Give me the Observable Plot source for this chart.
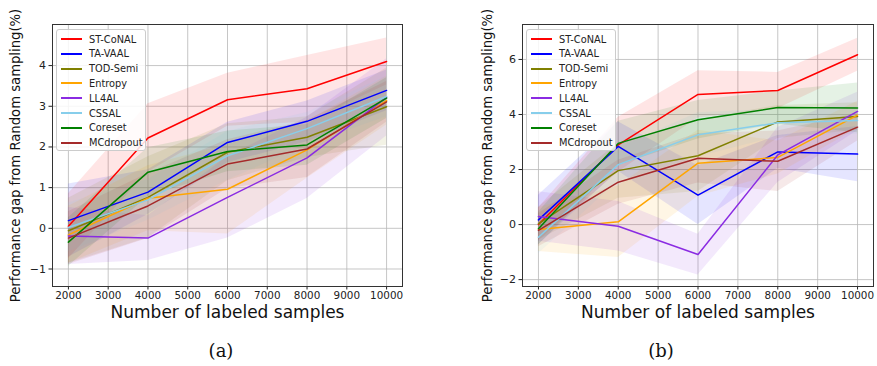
<!DOCTYPE html>
<html>
<head>
<meta charset="utf-8">
<script src="https://cdn.jsdelivr.net/npm/d3@7"></script>
<script src="https://cdn.jsdelivr.net/npm/@observablehq/plot@0.6"></script>
<style>
  html, body { margin: 0; padding: 0; background: #fff; }
  #wrap { position: relative; width: 877px; height: 366px; overflow: hidden; font-family: "DejaVu Sans", sans-serif; }
  .panel { position: absolute; top: 0; }
  .legend { position: absolute; border: 1px solid #cccccc; border-radius: 3px; background: rgba(255,255,255,0.85); box-sizing: border-box; }
  .legend .row { position: absolute; left: 0; height: 14px; display: flex; align-items: center; font-size: 9.8px; color: #222; white-space: nowrap; }
  .legend .sw { width: 21px; height: 2px; margin-left: 4px; margin-right: 7px; }
  .cap { position: absolute; top: 340px; font-family: "DejaVu Serif", "Liberation Serif", serif; font-size: 18px; color: #111; transform: translateX(-50%); }
</style>
</head>
<body>
<div id="wrap"></div>
<script>
const samples = [2000, 4000, 6000, 8000, 10000];
const xTicks = [2000, 3000, 4000, 5000, 6000, 7000, 8000, 9000, 10000];
const methods = ["ST-CoNAL", "TA-VAAL", "TOD-Semi", "Entropy", "LL4AL", "CSSAL", "Coreset", "MCdropout"];
const colors = ["red", "blue", "olive", "orange", "blueviolet", "skyblue", "green", "brown"];

// Panel (a)
const meanA = [
  [0.05, 2.22, 3.16, 3.43, 4.10],
  [0.19, 0.89, 2.11, 2.63, 3.39],
  [-0.06, 0.76, 1.87, 2.24, 2.99],
  [-0.16, 0.74, 0.96, 1.93, 3.14],
  [-0.19, -0.24, 0.76, 1.73, 3.22],
  [0.02, 0.70, 1.78, 2.45, 3.24],
  [-0.34, 1.38, 1.89, 2.05, 3.20],
  [-0.24, 0.55, 1.58, 1.95, 3.11]
];
const stdA = [
  [0.80, 0.84, 0.65, 0.82, 0.58],
  [0.90, 0.55, 0.50, 0.50, 0.50],
  [0.80, 1.00, 0.70, 0.50, 0.95],
  [0.70, 0.80, 1.10, 0.70, 0.60],
  [0.70, 0.55, 1.00, 1.00, 0.95],
  [0.60, 0.50, 0.60, 0.40, 0.50],
  [0.60, 0.60, 0.50, 0.50, 0.50],
  [0.65, 0.80, 0.60, 0.70, 0.50]
];
const yTicksA = [-1, 0, 1, 2, 3, 4];

// Panel (b)
const meanB = [
  [0.00, 2.90, 4.73, 4.87, 6.17],
  [0.17, 2.84, 1.07, 2.64, 2.56],
  [0.03, 1.96, 2.50, 3.73, 3.93],
  [-0.18, 0.10, 2.23, 2.44, 3.98],
  [0.29, -0.06, -1.09, 2.53, 4.11],
  [-0.46, 2.18, 3.26, 3.70, 3.78],
  [-0.15, 2.95, 3.81, 4.25, 4.24],
  [-0.21, 1.54, 2.41, 2.30, 3.54]
];
const stdB = [
  [0.60, 1.00, 0.86, 0.66, 0.60],
  [0.90, 0.90, 1.07, 0.60, 1.00],
  [0.60, 1.00, 1.30, 0.60, 0.50],
  [0.80, 1.30, 1.20, 0.60, 0.50],
  [0.90, 0.90, 0.74, 1.00, 0.70],
  [0.60, 0.60, 0.80, 0.50, 0.50],
  [0.60, 0.80, 0.70, 0.60, 0.90],
  [0.60, 0.80, 0.90, 1.10, 0.50]
];
const yTicksB = [-2, 0, 2, 4, 6];

const xLabel = "Number of labeled samples";
const yLabel = "Performance gap from Random sampling(%)";

const intFmt = d => (d < 0 ? "\u2212" : "") + Math.abs(d);

function rows(mean, std) {
  const out = [];
  methods.forEach((m, i) => samples.forEach((s, j) => {
    out.push({method: m, x: s, y: mean[i][j], lo: mean[i][j] - std[i][j], hi: mean[i][j] + std[i][j]});
  }));
  return out;
}

function panel({mean, std, yDomain, yTicks, width, marginLeft, marginRight, yLabelDx}) {
  const data = rows(mean, std);
  return Plot.plot({
    width, height: 330,
    marginLeft, marginRight, marginTop: 24, marginBottom: 44,
    style: {fontFamily: "DejaVu Sans, sans-serif", fontSize: "11px", color: "#222", background: "transparent"},
    x: {domain: [1600, 10400], label: null},
    y: {domain: yDomain, label: null},
    color: {domain: methods, range: colors},
    marks: [
      Plot.gridX(xTicks, {stroke: "#b8b8b8", strokeOpacity: 0.8, strokeWidth: 1}),
      Plot.gridY(yTicks, {stroke: "#b8b8b8", strokeOpacity: 0.8, strokeWidth: 1}),
      Plot.areaY(data, {x: "x", y1: "lo", y2: "hi", z: "method", fill: "method", fillOpacity: 0.1}),
      Plot.lineY(data, {x: "x", y: "y", z: "method", stroke: "method", strokeWidth: 1.5}),
      Plot.axisX({ticks: xTicks, tickFormat: intFmt, tickSize: 3.5, tickPadding: 2, label: null, fontSize: 10.4}),
      Plot.axisY({ticks: yTicks, tickFormat: intFmt, tickSize: 3.5, tickPadding: 3, label: null, fontSize: 11}),
      Plot.frame({stroke: "#333", strokeWidth: 1}),
      Plot.text([xLabel], {text: d => d, frameAnchor: "bottom", dy: 31, fontSize: 17, fill: "#111"}),
      Plot.text([yLabel], {text: d => d, frameAnchor: "left", textAnchor: "middle", dx: yLabelDx, rotate: -90, fontSize: 13.2, fill: "#111"})
    ]
  });
}

function legend(left, top) {
  const lg = document.createElement("div");
  lg.className = "legend";
  lg.style.left = left + "px";
  lg.style.top = top + "px";
  lg.style.width = "90px";
  lg.style.height = "122px";
  methods.forEach((m, i) => {
    const r = document.createElement("div");
    r.className = "row";
    r.style.top = (2 + i * 14.8) + "px";
    const sw = document.createElement("div");
    sw.className = "sw";
    sw.style.background = colors[i];
    const t = document.createElement("span");
    t.textContent = m;
    r.appendChild(sw); r.appendChild(t);
    lg.appendChild(r);
  });
  return lg;
}

const wrap = document.getElementById("wrap");

const pa = document.createElement("div");
pa.className = "panel"; pa.style.left = "0px";
pa.appendChild(panel({mean: meanA, std: stdA, yDomain: [-1.43, 5.01], yTicks: yTicksA, width: 438, marginLeft: 52, marginRight: 36, yLabelDx: -37}));
wrap.appendChild(pa);

const pb = document.createElement("div");
pb.className = "panel"; pb.style.left = "440px";
pb.appendChild(panel({mean: meanB, std: stdB, yDomain: [-2.25, 7.27], yTicks: yTicksB, width: 437, marginLeft: 82, marginRight: 4, yLabelDx: -35}));
wrap.appendChild(pb);

wrap.appendChild(legend(56, 29));
wrap.appendChild(legend(526, 29));

[["(a)", 221], ["(b)", 661]].forEach(([t, x]) => {
  const c = document.createElement("div");
  c.className = "cap"; c.textContent = t; c.style.left = x + "px";
  wrap.appendChild(c);
});
</script>
</body>
</html>
